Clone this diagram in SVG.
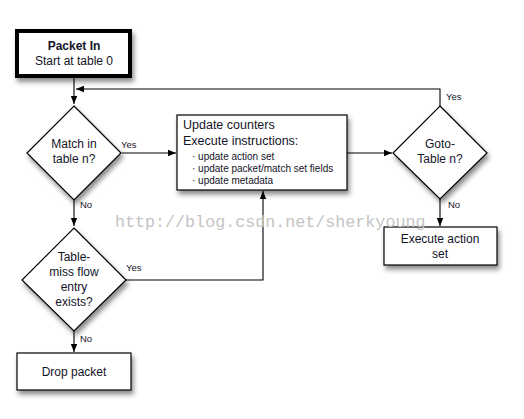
<svg xmlns="http://www.w3.org/2000/svg" width="524" height="419" viewBox="0 0 524 419">
<style>
.box{fill:#fff;stroke:#000;stroke-width:1.2}
.t{font-family:"Liberation Sans",Arial,sans-serif;font-size:12px;fill:#141428}
.m{font-size:12.5px}
.c{text-anchor:middle}
.s{font-family:"Liberation Sans",Arial,sans-serif;font-size:10px;fill:#141428}
.lbl{font-family:"Liberation Sans",Arial,sans-serif;font-size:9.5px;fill:#141428}
.ln{fill:none;stroke:#000;stroke-width:1.1}
.wm{font-family:"Liberation Mono","DejaVu Sans Mono",monospace;font-size:16.7px;fill:#c4c4c4}
</style>
<defs>
<filter id="sh" x="-20%" y="-20%" width="150%" height="160%">
<feDropShadow dx="2" dy="4" stdDeviation="2.5" flood-color="#000" flood-opacity="0.45"/>
</filter>
<marker id="ar" viewBox="0 0 10 10" refX="10" refY="5" markerWidth="8" markerHeight="8" markerUnits="userSpaceOnUse" orient="auto">
<path d="M0,1 L10,5 L0,9 z" fill="#000"/>
</marker>
</defs>
<rect width="524" height="419" fill="#fff"/>
<g id="connectors">
<path class="ln" d="M74,77 L74,104" marker-end="url(#ar)"/>
<path class="ln" d="M122,153 L176,153" marker-end="url(#ar)"/>
<path class="ln" d="M347,153 L392,153" marker-end="url(#ar)"/>
<path class="ln" d="M440,106 L440,89 L76,89" marker-end="url(#ar)"/>
<path class="ln" d="M440,199 L440,226" marker-end="url(#ar)"/>
<path class="ln" d="M74,200 L74,226" marker-end="url(#ar)"/>
<path class="ln" d="M126,280 L263,280 L263,191" marker-end="url(#ar)"/>
<path class="ln" d="M74,331 L74,352" marker-end="url(#ar)"/>
<text class="lbl" x="121" y="148">Yes</text>
<text class="lbl" x="446" y="100">Yes</text>
<text class="lbl" x="448" y="208">No</text>
<text class="lbl" x="80" y="208">No</text>
<text class="lbl" x="126" y="271">Yes</text>
<text class="lbl" x="80" y="342">No</text>
</g>
<g id="packet-in">
<rect x="17" y="31" width="113" height="45" fill="#fff" stroke="#000" stroke-width="4" filter="url(#sh)"/>
<text class="t c" x="74" y="50" font-weight="bold">Packet In</text>
<text class="t c" x="74" y="65">Start at table 0</text>
</g>
<g id="match">
<polygon class="box" points="74,106 121,153 74,200 27,153" filter="url(#sh)"/>
<text class="t c" x="74" y="148">Match in</text>
<text class="t c" x="74" y="163">table n?</text>
</g>
<g id="update">
<rect class="box" x="177" y="115" width="170" height="75" filter="url(#sh)"/>
<text class="t m" x="183" y="129">Update counters</text>
<text class="t m" x="183" y="145">Execute instructions:</text>
<text class="s" x="192" y="160">· update action set</text>
<text class="s" x="192" y="172">· update packet/match set fields</text>
<text class="s" x="192" y="184">· update metadata</text>
</g>
<g id="goto">
<polygon class="box" points="440,106 487,153 440,199 393,153" filter="url(#sh)"/>
<text class="t c" x="440" y="148">Goto-</text>
<text class="t c" x="440" y="163">Table n?</text>
</g>
<g id="execute">
<rect class="box" x="384" y="227" width="113" height="38" filter="url(#sh)"/>
<text class="t c" x="440" y="243">Execute action</text>
<text class="t c" x="440" y="258">set</text>
</g>
<g id="tablemiss">
<polygon class="box" points="74,228 126,280 74,331 22,280" filter="url(#sh)"/>
<text class="t c" x="74" y="261">Table-</text>
<text class="t c" x="74" y="276">miss flow</text>
<text class="t c" x="74" y="291">entry</text>
<text class="t c" x="74" y="306">exists?</text>
</g>
<g id="drop">
<rect class="box" x="17" y="353" width="114" height="37" filter="url(#sh)"/>
<text class="t c" x="74" y="376">Drop packet</text>
</g>
<text class="wm" x="115" y="227">http://blog.csdn.net/sherkyoung</text>
</svg>
